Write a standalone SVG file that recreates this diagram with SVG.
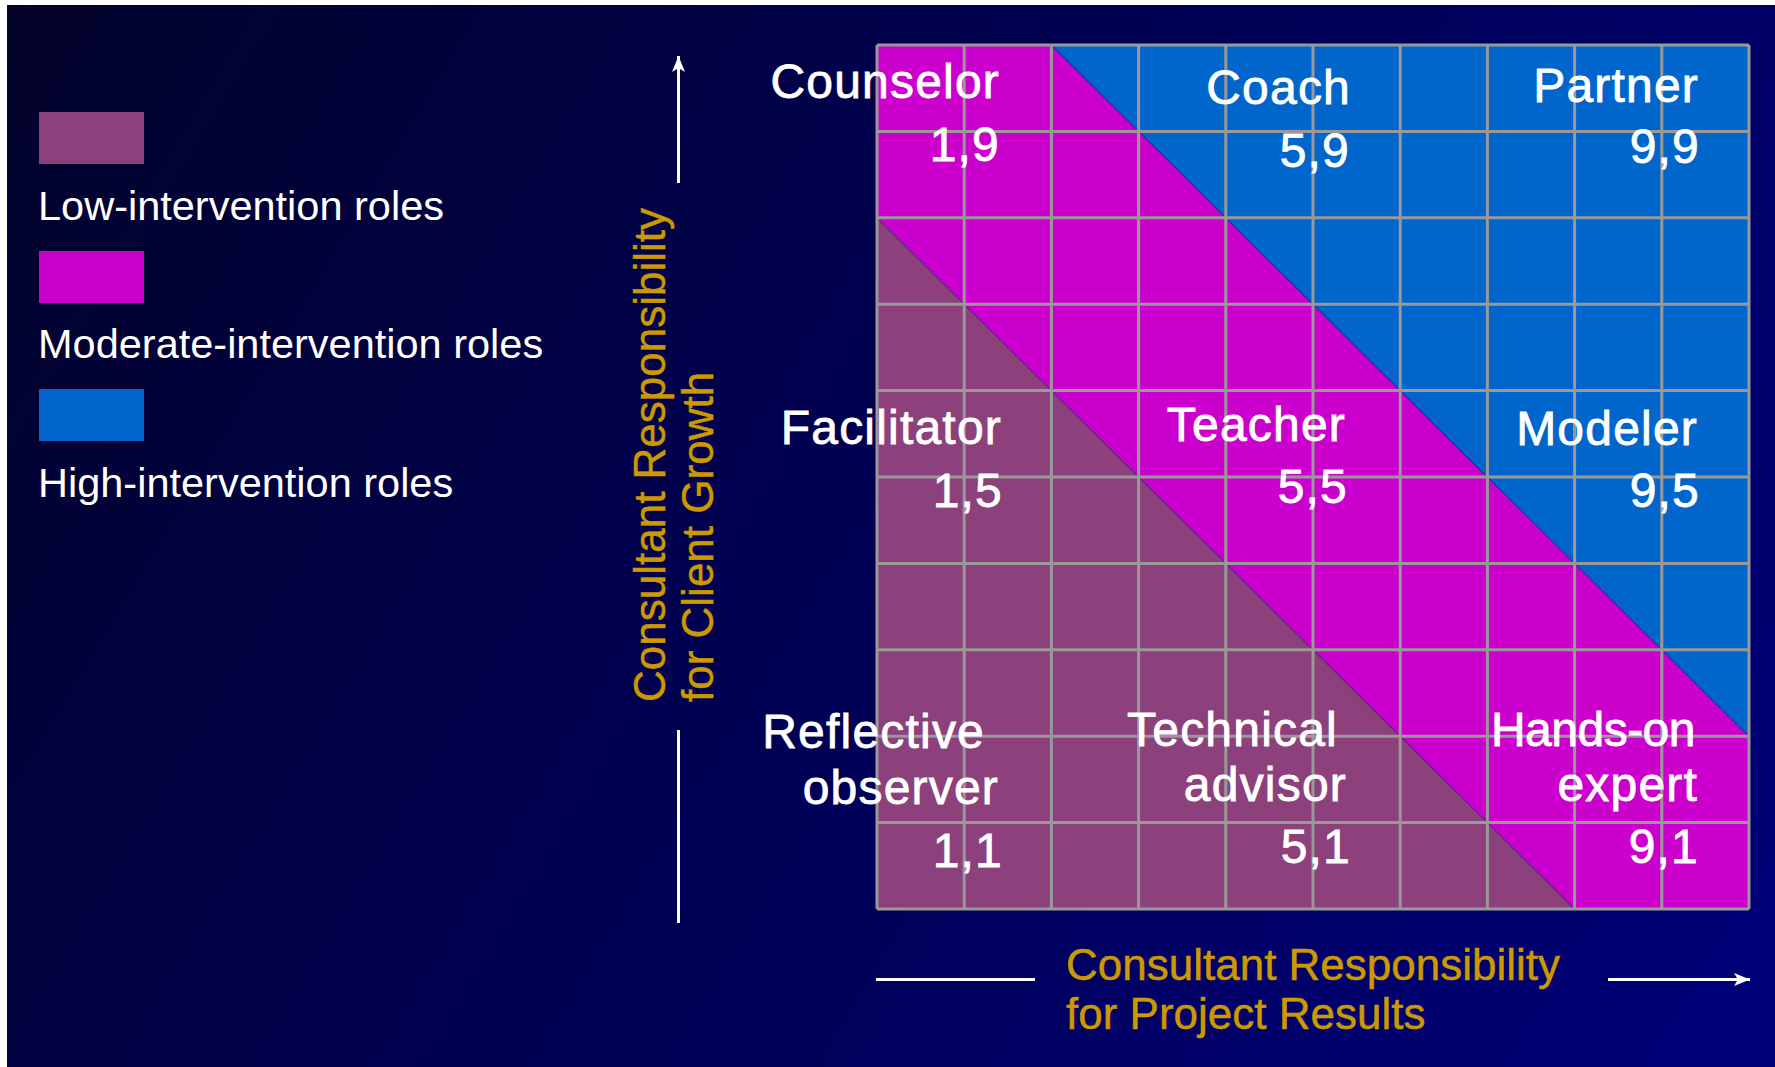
<svg xmlns="http://www.w3.org/2000/svg" width="1775" height="1067" viewBox="0 0 1775 1067">
  <defs>
    <linearGradient id="bg" gradientUnits="userSpaceOnUse" x1="0" y1="0" x2="1775" y2="1067">
      <stop offset="0" stop-color="#03032a"/>
      <stop offset="0.5" stop-color="#000055"/>
      <stop offset="1" stop-color="#00007a"/>
    </linearGradient>
    <marker id="head" markerUnits="userSpaceOnUse" markerWidth="20" markerHeight="16" refX="16" refY="8" orient="auto">
      <path d="M0,1.5 L16,8 L0,14.5 L4,8 Z" fill="#ffffff"/>
    </marker>
    <style>
      .legend { font-family: "Liberation Sans", Arial, sans-serif; font-size: 41.5px; fill: #ffffff; }
      .role { font-family: "Liberation Sans", Arial, sans-serif; font-size: 48px; fill: #ffffff; stroke: #ffffff; stroke-width: 0.8; text-anchor: end; letter-spacing: 1.2px; }
      .tight { letter-spacing: -0.5px; }
      .axis { font-family: "Liberation Sans", Arial, sans-serif; font-size: 44px; fill: #cc9900; stroke: #cc9900; stroke-width: 0.5; }
      .low { fill: #8c417c; }
      .mid { fill: #cc00cc; }
      .high { fill: #0066cc; }
      .grid { fill: none; stroke: #999999; stroke-width: 3; }
      .axisline { fill: none; stroke: #ffffff; stroke-width: 3; }
    </style>
  </defs>

  <!-- page and slide background -->
  <rect x="0" y="0" width="1775" height="1067" fill="#ffffff"/>
  <rect x="7" y="5" width="1768" height="1062" fill="url(#bg)"/>

  <!-- legend -->
  <g id="legend-low">
    <rect class="low" x="39" y="112" width="105" height="52"/>
    <text class="legend" x="38" y="220">Low-intervention roles</text>
  </g>
  <g id="legend-moderate">
    <rect class="mid" x="39" y="251" width="105" height="52"/>
    <text class="legend" x="38" y="358">Moderate-intervention roles</text>
  </g>
  <g id="legend-high">
    <rect class="high" x="39" y="389" width="105" height="52"/>
    <text class="legend" x="38" y="497">High-intervention roles</text>
  </g>

  <!-- role matrix: 10 x 10 cells, 87.2 x 86.4 each -->
  <g id="matrix">
    <rect class="mid" x="877" y="45" width="872" height="864"/>
    <polygon class="low" points="877,217.8 877,909 1574.6,909"/>
    <polygon class="high" points="1051.4,45 1749,45 1749,736.2"/>
    <line x1="877" y1="217.8" x2="1574.6" y2="909" stroke="#6a2390" stroke-width="1.5"/>
    <line x1="1051.4" y1="45" x2="1749" y2="736.2" stroke="#3030a8" stroke-width="1.5"/>
    <path class="grid" d="M877,45V909 M964.2,45V909 M1051.4,45V909 M1138.6,45V909 M1225.8,45V909 M1313,45V909 M1400.2,45V909 M1487.4,45V909 M1574.6,45V909 M1661.8,45V909 M1749,45V909
      M877,45H1749 M877,131.4H1749 M877,217.8H1749 M877,304.2H1749 M877,390.6H1749 M877,477H1749 M877,563.4H1749 M877,649.8H1749 M877,736.2H1749 M877,822.6H1749 M877,909H1749"/>
  </g>

  <!-- role labels -->
  <g id="counselor">
    <text class="role" x="1000" y="98">Counselor</text>
    <text class="role" x="1000" y="161">1,9</text>
  </g>
  <g id="coach">
    <text class="role" x="1351" y="104">Coach</text>
    <text class="role" x="1350" y="167">5,9</text>
  </g>
  <g id="partner">
    <text class="role" x="1699" y="102">Partner</text>
    <text class="role" x="1700" y="163">9,9</text>
  </g>
  <g id="facilitator">
    <text class="role" x="1002" y="444">Facilitator</text>
    <text class="role" x="1003" y="507">1,5</text>
  </g>
  <g id="teacher">
    <text class="role" x="1346" y="441">Teacher</text>
    <text class="role" x="1348" y="503">5,5</text>
  </g>
  <g id="modeler">
    <text class="role" x="1698" y="445">Modeler</text>
    <text class="role" x="1700" y="507">9,5</text>
  </g>
  <g id="reflective-observer">
    <text class="role" x="985" y="748">Reflective</text>
    <text class="role" x="999" y="804">observer</text>
    <text class="role" x="1003" y="867">1,1</text>
  </g>
  <g id="technical-advisor">
    <text class="role" x="1338" y="746">Technical</text>
    <text class="role" x="1347" y="801">advisor</text>
    <text class="role" x="1351" y="863">5,1</text>
  </g>
  <g id="hands-on-expert">
    <text class="role tight" x="1695" y="746">Hands-on</text>
    <text class="role" x="1698" y="801">expert</text>
    <text class="role" x="1699" y="863">9,1</text>
  </g>

  <!-- axis titles -->
  <g id="axis-y-title">
    <text class="axis" transform="translate(665,702) rotate(-90)">Consultant Responsibility</text>
    <text class="axis" transform="translate(713,702) rotate(-90)">for Client Growth</text>
  </g>
  <g id="axis-x-title">
    <text class="axis" x="1066" y="980">Consultant Responsibility</text>
    <text class="axis" x="1066" y="1029">for Project Results</text>
  </g>

  <!-- axis arrows -->
  <g id="connectors">
    <line class="axisline" x1="678.5" y1="183" x2="678.5" y2="56" marker-end="url(#head)"/>
    <line class="axisline" x1="678.5" y1="730" x2="678.5" y2="923"/>
    <line class="axisline" x1="876" y1="979.5" x2="1035" y2="979.5"/>
    <line class="axisline" x1="1608" y1="979.5" x2="1750" y2="979.5" marker-end="url(#head)"/>
  </g>
</svg>
